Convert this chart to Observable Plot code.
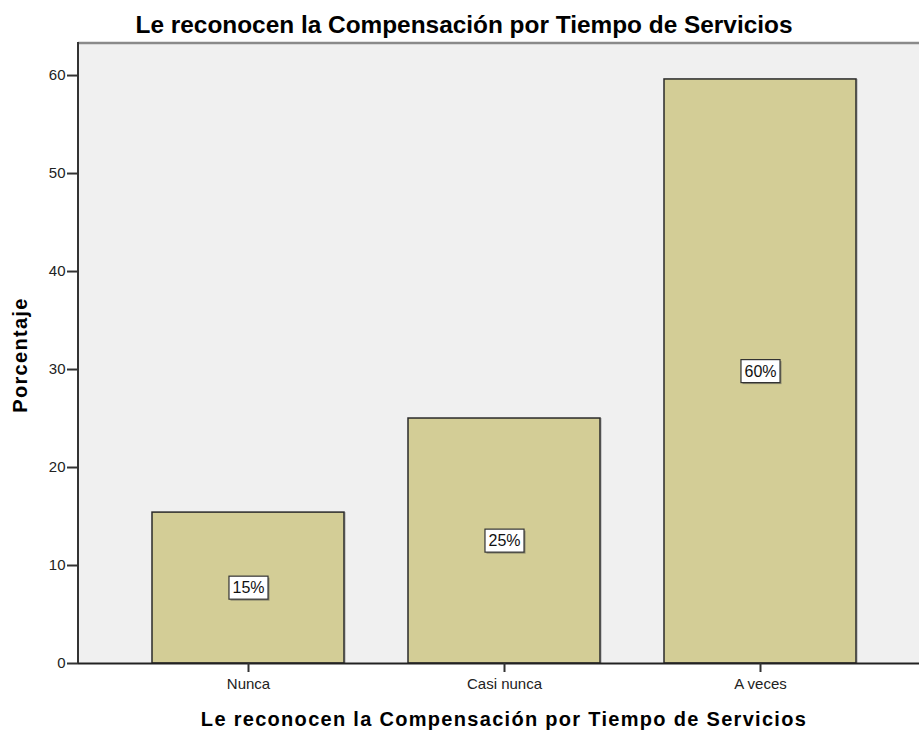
<!DOCTYPE html>
<html><head><meta charset="utf-8">
<script src="https://cdn.jsdelivr.net/npm/d3@7"></script>
<script src="https://cdn.jsdelivr.net/npm/@observablehq/plot@0.6"></script>
<style>body{margin:0;background:#fff} svg{display:block}</style>
</head><body><div id="chart"></div>
<script>
const categories = ["Nunca", "Casi nunca", "A veces"];
const values = [15.4, 25.0, 59.6];
const labels = ["15%", "25%", "60%"];
const yTicks = [0, 10, 20, 30, 40, 50, 60];
const chartTitle = "Le reconocen la Compensación por Tiempo de Servicios";
const xTitle = "Le reconocen la Compensación por Tiempo de Servicios";
const yTitle = "Porcentaje";

const data = categories.map((c, i) => ({cat: c, value: values[i], label: labels[i]}));

const W = 919, H = 731, mL = 78, mR = 0, mT = 43, mB = 68;
const font = "'Liberation Sans', Arial, sans-serif";

const plot = Plot.plot({
  width: W, height: H,
  marginLeft: mL, marginRight: mR, marginTop: mT, marginBottom: mB,
  style: {fontFamily: font, fontSize: "15px", color: "#222", background: "#fff", overflow: "visible"},
  x: {domain: categories, range: [120, 888], paddingInner: 0.25, paddingOuter: 0.125},
  y: {domain: [0, 63.27]},
  marks: [
    Plot.frame({fill: "#f0f0f0", stroke: null}),
    Plot.barY(data, {x: "cat", y: "value", fill: "#c9c9c9", dx: 2}),
    Plot.barY(data, {x: "cat", y: "value", fill: "#d3cd96", stroke: "#2a2a2a", strokeWidth: 1.5}),
    Plot.ruleY([0], {stroke: "#222", strokeWidth: 2}),
    Plot.axisY({ticks: yTicks, tickSize: 11, tickPadding: 2, fontSize: 15, stroke: "#333", strokeWidth: 2, label: null, fill: "#222"}),
    Plot.axisX({tickSize: 9, tickPadding: 6, fontSize: 15, stroke: "#333", strokeWidth: 2, label: null, fill: "#222"}),
    Plot.text(data, {x: "cat", y: d => d.value / 2, text: "label", fontSize: 16, fill: "#111", ariaLabel: "pct"})
  ]
});

document.getElementById("chart").append(plot);
const svg = d3.select(plot);

// frame decorations
svg.append("line").attr("x1", mL).attr("x2", W).attr("y1", mT).attr("y2", mT)
  .attr("stroke", "#8a8a8a").attr("stroke-width", 2.5);
svg.append("line").attr("x1", mL).attr("x2", mL).attr("y1", mT - 1).attr("y2", H - mB)
  .attr("stroke", "#333").attr("stroke-width", 2);

// boxes behind percentage labels
const pctTexts = Array.from(plot.querySelectorAll("text")).filter(t => labels.includes(t.textContent));
const NS = "http://www.w3.org/2000/svg";
pctTexts.forEach(t => {
  const b = t.getBBox();
  const tr = t.getAttribute("transform") || "";
  const px = 3.5, py = 3;
  const p = t.parentNode;
  const shadow = document.createElementNS(NS, "rect");
  shadow.setAttribute("x", b.x - px + 1.5); shadow.setAttribute("y", b.y - py + 1.5);
  shadow.setAttribute("width", b.width + 2 * px); shadow.setAttribute("height", b.height + 2 * py);
  shadow.setAttribute("fill", "#8f8c70");
  shadow.setAttribute("transform", tr);
  const r = document.createElementNS(NS, "rect");
  r.setAttribute("x", b.x - px); r.setAttribute("y", b.y - py);
  r.setAttribute("width", b.width + 2 * px); r.setAttribute("height", b.height + 2 * py);
  r.setAttribute("fill", "#fff"); r.setAttribute("stroke", "#333"); r.setAttribute("stroke-width", 1.2);
  r.setAttribute("transform", tr);
  p.insertBefore(shadow, t);
  p.insertBefore(r, t);
});

// titles
svg.append("text").attr("x", 464).attr("y", 33).attr("text-anchor", "middle")
  .attr("font-family", font).attr("font-weight", "bold").attr("font-size", 24.4).attr("fill", "#000")
  .text(chartTitle);
svg.append("text").attr("x", 504).attr("y", 726).attr("text-anchor", "middle")
  .attr("font-family", font).attr("font-weight", "bold").attr("font-size", 20)
  .attr("letter-spacing", "1.3px").attr("fill", "#000")
  .text(xTitle);
svg.append("text").attr("transform", "translate(27,355) rotate(-90)").attr("text-anchor", "middle")
  .attr("font-family", font).attr("font-weight", "bold").attr("font-size", 20)
  .attr("letter-spacing", "1.3px").attr("fill", "#000")
  .text(yTitle);
</script>
</body></html>
